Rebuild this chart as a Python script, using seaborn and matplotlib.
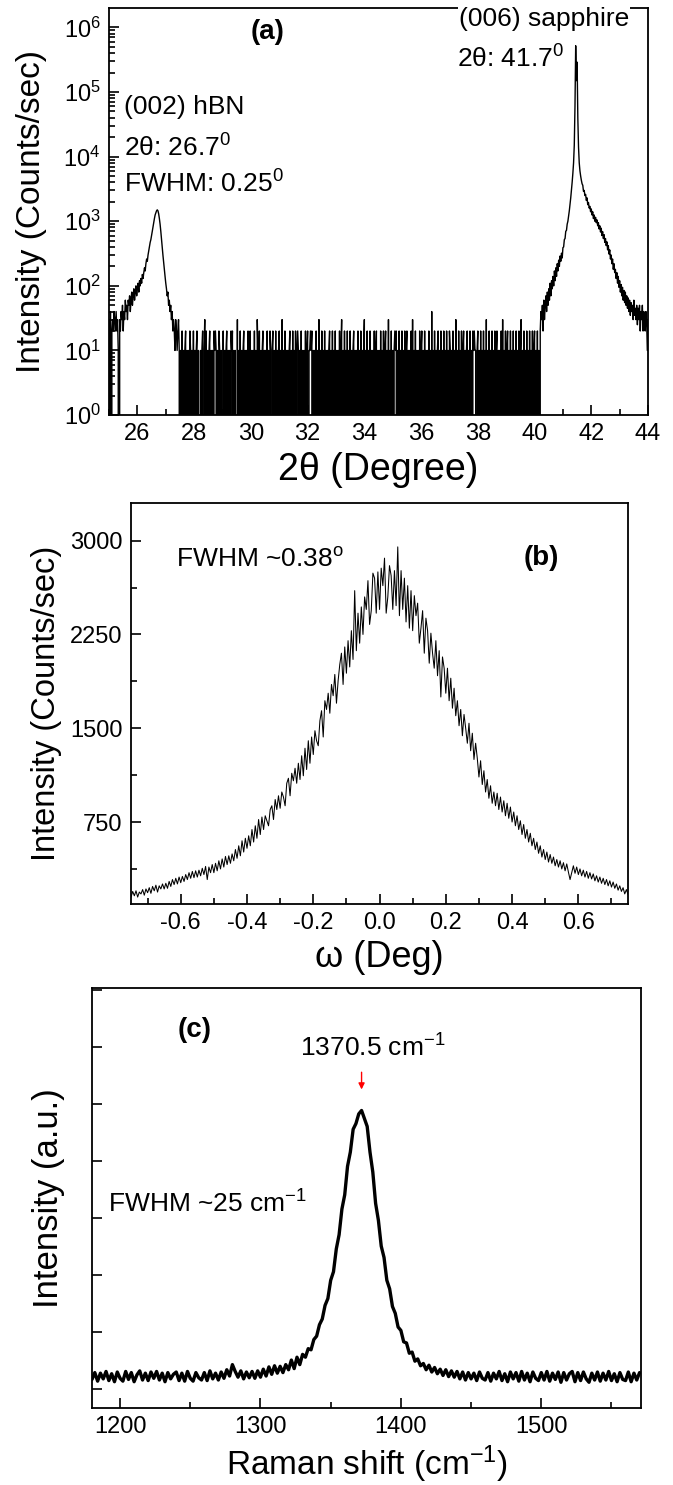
import numpy as np
import matplotlib
matplotlib.use('Agg')
import matplotlib.pyplot as plt
from matplotlib.ticker import LogLocator, MultipleLocator, NullFormatter, NullLocator
import seaborn as sns

# (a) 2theta scan, counts/sec, step 0.025 deg
step_a = 0.025
hbn_start = 25.0
hbn_counts = [30, 0, 40, 0, 20, 30, 20, 40, 30, 20,
              40, 20, 30, 10, 0, 30, 20, 40, 30, 50,
              20, 40, 30, 60, 40, 50, 30, 60, 50, 70,
              40, 60, 80, 50, 70, 90, 60, 80, 100, 70,
              90, 110, 80, 120, 100, 130, 110, 150, 130, 160,
              190, 170, 220, 260, 240, 300, 350, 400, 470, 520,
              600, 700, 820, 950, 1100, 1250, 1350, 1450, 1500, 1450,
              1300, 1100, 900, 700, 520, 400, 300, 230, 180, 140,
              110, 90, 70, 80, 50, 60, 40, 50, 30, 40,
              20, 30, 20, 10, 30, 20, 10, 20, 30, 10]

bg_start = 27.5
bg_digits = ("0102010120" "1010210102" "0101201001" "0120130201" "0120101021"
             "2101021010" "0201012010" "1021201010" "0301020101" "2010102012"
             "0101020103" "1020101201" "0102010210" "1201020101" "2010301020"
             "1010120102" "0102012101" "0201010201" "2011212010" "1020103010"
             "2010201010" "1201020102" "0101020130" "1020102010" "2010120101"
             "0201020101" "3010201020" "1010201201" "0102010201" "2010301020"
             "1012120102" "0102010201" "2010102030" "1020101020" "1201020101"
             "0201040102" "0101201020" "1020102010" "2101020103" "0102010201"
             "2010120102" "0102121101" "2010201020" "1030102010" "2010201201"
             "0102030102" "0120102010" "2010201020" "1301020102" "0102010201"
             "20102010")  # counts / 10

sap_start = 40.2
sap_counts = [20, 40, 30, 50, 20, 60, 30, 50, 70, 40,
              80, 50, 90, 60, 110, 70, 120, 90, 140, 100,
              170, 120, 190, 140, 220, 170, 250, 200, 290, 240,
              320, 270, 390, 400, 520, 540, 700, 720, 900, 1000,
              1200, 1450, 1800, 2300, 3000, 4000, 5500, 8000, 15000, 60000,
              520000, 150000, 290000, 40000, 14000, 8000, 6000, 5000, 4300, 3800,
              3600, 2900, 3000, 2500, 2600, 2100, 2300, 1800, 1950, 1600,
              1700, 1400, 1550, 1250, 1400, 1100, 1250, 1000, 1150, 950,
              1050, 850, 950, 760, 850, 680, 780, 600, 690, 540,
              620, 470, 540, 420, 480, 360, 420, 310, 360, 260,
              300, 220, 260, 180, 220, 160, 180, 130, 160, 110,
              140, 95, 120, 80, 105, 70, 95, 60, 85, 55,
              80, 50, 70, 45, 65, 40, 60, 35, 55, 40,
              50, 30, 60, 35, 45, 30, 50, 25, 45, 30,
              50, 20, 40, 30, 50, 20, 40, 30, 20, 40,
              30, 10, 30]

# (b) rocking curve, counts/sec
omega_start, omega_step = -0.75, 0.005
rock_counts = [150, 195, 160, 200, 150, 190, 175, 210, 165, 215,
               185, 225, 180, 235, 200, 245, 190, 240, 215, 255,
               215, 260, 220, 275, 235, 290, 250, 300, 255, 310,
               265, 315, 275, 330, 290, 345, 300, 355, 305, 360,
               310, 365, 320, 380, 330, 395, 290, 390, 345, 410,
               345, 420, 360, 440, 375, 455, 390, 475, 410, 480,
               420, 495, 440, 530, 460, 560, 480, 600, 510, 620,
               540, 640, 560, 690, 590, 720, 620, 770, 650, 790,
               690, 800, 760, 720, 850, 880, 770, 930, 850, 960,
               860, 990, 950, 880, 1060, 1100, 960, 1140, 1080, 1180,
               1060, 1220, 1090, 1280, 1120, 1340, 1170, 1400, 1220, 1430,
               1290, 1480, 1400, 1360, 1560, 1640, 1430, 1720, 1650, 1780,
               1620, 1850, 1760, 1930, 1700, 1880, 2010, 2100, 1850, 2150,
               1940, 2200, 1990, 2280, 2050, 2600, 2120, 2420, 2180, 2470,
               2250, 2550, 2450, 2680, 2330, 2440, 2740, 2700, 2420, 2750,
               2450, 2780, 2640, 2860, 2420, 2550, 2800, 2720, 2450, 2760,
               2480, 2950, 2400, 2760, 2450, 2700, 2350, 2640, 2300, 2600,
               2280, 2560, 2400, 2500, 2180, 2300, 2440, 2100, 2380, 2280,
               2020, 2260, 2100, 1980, 2200, 1920, 2120, 1750, 2070, 1980,
               1780, 1980, 1720, 1900, 1660, 1820, 1600, 1720, 1520, 1650,
               1440, 1610, 1500, 1380, 1540, 1320, 1460, 1250, 1380, 1260,
               1110, 1240, 1050, 1160, 990, 1090, 940, 1040, 900, 990,
               880, 980, 850, 950, 830, 920, 800, 900, 780, 870,
               750, 830, 720, 800, 690, 760, 650, 730, 620, 690,
               590, 660, 560, 620, 530, 590, 500, 560, 470, 530,
               450, 510, 430, 490, 420, 470, 400, 450, 390, 440,
               375, 425, 360, 415, 350, 290, 345, 400, 340, 390,
               330, 375, 320, 365, 310, 355, 300, 345, 295, 335,
               280, 320, 270, 310, 260, 300, 250, 290, 240, 280,
               230, 270, 220, 255, 205, 240, 195, 225, 175, 210,
               170]

# (c) Raman spectrum, arbitrary units
raman_start, raman_step = 1180, 2
raman_int = [0.16, 0.28, 0.13, 0.27, 0.17, 0.30, 0.14, 0.26, 0.12, 0.29,
             0.18, 0.13, 0.30, 0.16, 0.28, 0.12, 0.24, 0.31, 0.15, 0.27,
             0.14, 0.29, 0.18, 0.30, 0.15, 0.27, 0.12, 0.28, 0.17, 0.25,
             0.29, 0.14, 0.27, 0.13, 0.30, 0.18, 0.13, 0.28, 0.19, 0.15,
             0.28, 0.14, 0.31, 0.17, 0.27, 0.15, 0.29, 0.18, 0.33, 0.22,
             0.42, 0.30, 0.20, 0.31, 0.17, 0.29, 0.19, 0.30, 0.18, 0.31,
             0.20, 0.34, 0.22, 0.38, 0.25, 0.40, 0.27, 0.39, 0.28, 0.42,
             0.33, 0.50, 0.35, 0.55, 0.42, 0.60, 0.55, 0.70, 0.68, 0.86,
             0.92, 1.12, 1.22, 1.46, 1.58, 1.90, 2.05, 2.45, 2.70, 3.15,
             3.40, 3.90, 4.15, 4.55, 4.65, 4.82, 4.88, 4.74, 4.60, 4.15,
             3.80, 3.25, 2.95, 2.50, 2.30, 1.90, 1.75, 1.44, 1.32, 1.08,
             1.02, 0.82, 0.80, 0.62, 0.64, 0.48, 0.52, 0.40, 0.44, 0.33,
             0.41, 0.29, 0.37, 0.26, 0.34, 0.23, 0.33, 0.21, 0.31, 0.20,
             0.30, 0.17, 0.29, 0.15, 0.28, 0.17, 0.27, 0.14, 0.29, 0.18,
             0.15, 0.28, 0.13, 0.27, 0.17, 0.30, 0.14, 0.26, 0.12, 0.29,
             0.17, 0.28, 0.13, 0.30, 0.15, 0.27, 0.12, 0.29, 0.18, 0.14,
             0.28, 0.15, 0.30, 0.13, 0.27, 0.16, 0.29, 0.11, 0.28, 0.15,
             0.26, 0.30, 0.12, 0.28, 0.14, 0.29, 0.17, 0.11, 0.27, 0.15,
             0.29, 0.13, 0.27, 0.15, 0.30, 0.14, 0.26, 0.12, 0.28, 0.16,
             0.14, 0.29, 0.12, 0.27, 0.15, 0.28]
raman_peak = 1372

# build x grids
x_hbn = hbn_start + step_a * np.arange(len(hbn_counts))
x_bg = bg_start + step_a * np.arange(len(bg_digits))
x_sap = sap_start + step_a * np.arange(len(sap_counts))
two_theta = np.concatenate([x_hbn, x_bg, x_sap])
xrd = np.concatenate([hbn_counts, [10 * int(c) for c in bg_digits], sap_counts]).astype(float)
omega = omega_start + omega_step * np.arange(len(rock_counts))
raman_x = raman_start + raman_step * np.arange(len(raman_int))

sns.set_style('ticks')
plt.rcParams['font.family'] = ['Liberation Sans', 'DejaVu Sans']
plt.rcParams['mathtext.fontset'] = 'custom'
plt.rcParams['mathtext.rm'] = 'Liberation Sans'
plt.rcParams['mathtext.it'] = 'Liberation Sans:italic'
plt.rcParams['mathtext.bf'] = 'Liberation Sans:bold'
plt.rcParams['axes.linewidth'] = 1.3
plt.rcParams['axes.edgecolor'] = 'black'
plt.rcParams['text.color'] = 'black'
plt.rcParams['axes.labelcolor'] = 'black'

fig = plt.figure(figsize=(6.73, 14.85), dpi=100)
ax_a = fig.add_axes([0.1620, 0.7205, 0.8009, 0.2741])
ax_b = fig.add_axes([0.1947, 0.3912, 0.7385, 0.2700])
ax_c = fig.add_axes([0.1367, 0.0519, 0.8157, 0.2828])


def style_ticks(ax):
    ax.tick_params(which='both', direction='in', top=False, right=False,
                   colors='black', labelsize=17, width=1.2, pad=6)
    ax.tick_params(which='major', length=7)
    ax.tick_params(which='minor', length=4)


# (a)
sns.lineplot(x=two_theta, y=xrd, ax=ax_a, color='black', linewidth=1.0, estimator=None)
ax_a.set_yscale('log', nonpositive='clip')
ax_a.set_xlim(25, 44)
ax_a.set_ylim(1, 10 ** 6.3)
ax_a.xaxis.set_major_locator(MultipleLocator(2))
ax_a.xaxis.set_minor_locator(MultipleLocator(1))
ax_a.yaxis.set_major_locator(LogLocator(base=10, numticks=10))
ax_a.yaxis.set_minor_locator(LogLocator(base=10, subs=np.arange(2, 10), numticks=20))
ax_a.yaxis.set_minor_formatter(NullFormatter())
style_ticks(ax_a)
ax_a.set_xlabel('2\u03b8 (Degree)', fontsize=27)
ax_a.set_ylabel('Intensity (Counts/sec)', fontsize=24)
ax_a.yaxis.set_label_coords(-0.115, 0.5)
ax_a.xaxis.set_label_coords(0.5, -0.09)
ax_a.text(0.295, 0.94, '(a)', transform=ax_a.transAxes, fontsize=20, fontweight='bold',
          ha='center', va='center')
ax_a.text(0.649, 0.974, '(006) sapphire', transform=ax_a.transAxes, fontsize=19, va='center',
          bbox=dict(facecolor='white', edgecolor='none', pad=1), zorder=5)
ax_a.text(0.645, 0.875, '2\u03b8: 41.7$^0$', transform=ax_a.transAxes, fontsize=19, va='center')
ax_a.text(0.028, 0.756, '(002) hBN', transform=ax_a.transAxes, fontsize=19, va='center')
ax_a.text(0.028, 0.657, '2\u03b8: 26.7$^0$', transform=ax_a.transAxes, fontsize=19, va='center')
ax_a.text(0.028, 0.567, 'FWHM: 0.25$^0$', transform=ax_a.transAxes, fontsize=19, va='center')

# (b)
sns.lineplot(x=omega, y=rock_counts, ax=ax_b, color='black', linewidth=0.75, estimator=None)
ax_b.set_xlim(-0.75, 0.75)
ax_b.set_ylim(94, 3300)
ax_b.xaxis.set_minor_locator(MultipleLocator(0.1))
ax_b.yaxis.set_major_locator(MultipleLocator(750))
ax_b.yaxis.set_minor_locator(MultipleLocator(375))
ax_b.set_xticks([-0.6, -0.4, -0.2, 0.0, 0.2, 0.4, 0.6])
ax_b.set_xticklabels(['-0.6', '-0.4', '-0.2', '0.0', '0.2', '0.4', '0.6'])
style_ticks(ax_b)
ax_b.set_xlabel('\u03c9 (Deg)', fontsize=26)
ax_b.set_ylabel('Intensity (Counts/sec)', fontsize=23.5)
ax_b.yaxis.set_label_coords(-0.139, 0.5)
ax_b.xaxis.set_label_coords(0.5, -0.09)
ax_b.text(0.091, 0.859, 'FWHM ~0.38$^{\\rm o}$', transform=ax_b.transAxes, fontsize=19, va='center')
ax_b.text(0.826, 0.863, '(b)', transform=ax_b.transAxes, fontsize=20, fontweight='bold',
          ha='center', va='center')

# (c)
sns.lineplot(x=raman_x, y=raman_int, ax=ax_c, color='black', linewidth=2.4, estimator=None)
ax_c.set_xlim(1180, 1571)
ax_c.set_ylim(-0.34, 7.03)
ax_c.xaxis.set_major_locator(MultipleLocator(100))
ax_c.xaxis.set_minor_locator(MultipleLocator(50))
ax_c.yaxis.set_major_locator(MultipleLocator(1))
ax_c.yaxis.set_minor_locator(NullLocator())
ax_c.set_yticklabels([])
style_ticks(ax_c)
ax_c.set_xlabel('Raman shift (cm$^{-1}$)', fontsize=24)
ax_c.set_ylabel('Intensity (a.u.)', fontsize=25)
ax_c.yaxis.set_label_coords(-0.049, 0.5)
ax_c.xaxis.set_label_coords(0.5, -0.085)
ax_c.text(1253, 6.29, '(c)', fontsize=20, fontweight='bold', ha='center', va='center')
ax_c.text(1380, 5.97, '1370.5 cm$^{-1}$', fontsize=19, ha='center', va='center')
ax_c.text(1191.7, 3.24, 'FWHM ~25 cm$^{-1}$', fontsize=19, va='center')
ax_c.annotate('', xy=(raman_peak, 5.2), xytext=(raman_peak, 5.6),
              arrowprops=dict(arrowstyle='-|>', color='red', lw=1, mutation_scale=9))

for ax in (ax_a, ax_b, ax_c):
    for s in ax.spines.values():
        s.set_visible(True)
        s.set_color('black')

fig.savefig('out.png', dpi=100, facecolor='white')
